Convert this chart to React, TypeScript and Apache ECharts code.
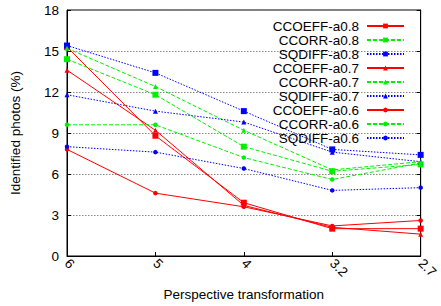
import React, { useEffect, useRef } from "react";
import * as echarts from "echarts";

const categories = ["6", "5", "4", "3.2", "2.7"];
const ccoeff08 = [15.3, 8.8, 3.9, 2.0, 2.0];
const ccorr08 = [14.4, 11.8, 8.0, 6.2, 6.7];
const sqdiff08 = [15.4, 13.4, 10.6, 7.8, 7.4];
const ccoeff07 = [13.6, 9.2, 3.7, 2.1, 1.6];
const ccorr07 = [15.2, 12.4, 9.2, 6.3, 6.9];
const sqdiff07 = [11.8, 10.6, 9.8, 7.6, 6.9];
const ccoeff06 = [7.8, 4.6, 3.6, 2.2, 2.6];
const ccorr06 = [9.6, 9.6, 7.2, 5.6, 6.8];
const sqdiff06 = [8.0, 7.6, 6.4, 4.8, 5.0];

const FONT = "Liberation Sans, Arial, Helvetica, sans-serif";

const RED = "#ff0000";
const GREEN = "#00f000";
const BLUE = "#0000ff";

type S = { name: string; data: number[]; color: string; dash: any; symbol: string; size: number };

const seriesDefs: S[] = [
  { name: "CCOEFF-a0.8", data: ccoeff08, color: RED, dash: "solid", symbol: "rect", size: 6 },
  { name: "CCORR-a0.8", data: ccorr08, color: GREEN, dash: [4, 2], symbol: "rect", size: 6 },
  { name: "SQDIFF-a0.8", data: sqdiff08, color: BLUE, dash: [1.5, 1.5], symbol: "rect", size: 6 },
  { name: "CCOEFF-a0.7", data: ccoeff07, color: RED, dash: "solid", symbol: "triangle", size: 5 },
  { name: "CCORR-a0.7", data: ccorr07, color: GREEN, dash: [4, 2], symbol: "triangle", size: 5 },
  { name: "SQDIFF-a0.7", data: sqdiff07, color: BLUE, dash: [1.5, 1.5], symbol: "triangle", size: 5 },
  { name: "CCOEFF-a0.6", data: ccoeff06, color: RED, dash: "solid", symbol: "circle", size: 4.5 },
  { name: "CCORR-a0.6", data: ccorr06, color: GREEN, dash: [4, 2], symbol: "circle", size: 4.5 },
  { name: "SQDIFF-a0.6", data: sqdiff06, color: BLUE, dash: [1.5, 1.5], symbol: "circle", size: 4.5 },
];

export default function App() {
  const ref = useRef<HTMLDivElement>(null);
  useEffect(() => {
    if (!ref.current) return;
    const chart = echarts.init(ref.current, undefined, { renderer: "svg" });
    chart.setOption({
      animation: false,
      textStyle: { fontFamily: FONT },
      grid: {
        left: 63,
        right: 15,
        top: 10,
        bottom: 48,
        show: true,
        borderColor: "#000",
        borderWidth: 1,
        backgroundColor: "transparent",
      },
      legend: {
        orient: "vertical",
        right: 31,
        top: 14,
        align: "right",
        itemWidth: 37,
        itemHeight: 6,
        itemGap: 0,
        textStyle: {
          fontFamily: FONT,
          fontSize: 13.5,
          lineHeight: 13.6,
          color: "#000",
          padding: [0, 3, 0, 0],
        },
        data: seriesDefs.map((s) => s.name),
      },
      xAxis: {
        type: "category",
        data: categories,
        boundaryGap: false,
        name: "Perspective transformation",
        nameLocation: "middle",
        nameGap: 31,
        nameTextStyle: { fontFamily: FONT, fontSize: 13.5, color: "#000" },
        axisLine: { lineStyle: { color: "#000", width: 1 } },
        axisTick: { inside: true, length: 4, lineStyle: { color: "#000" } },
        axisLabel: {
          rotate: -45,
          margin: 5,
          fontFamily: FONT,
          fontSize: 13.5,
          color: "#000",
        },
        splitLine: { show: false },
      },
      yAxis: [
        {
          type: "value",
          min: 0,
          max: 18,
          interval: 3,
          name: "Identified photos (%)",
          nameLocation: "middle",
          nameGap: 45,
          nameTextStyle: { fontFamily: FONT, fontSize: 13.5, color: "#000" },
          axisLine: { show: true, lineStyle: { color: "#000", width: 1 } },
          axisTick: { show: true, inside: true, length: 4, lineStyle: { color: "#000" } },
          axisLabel: { margin: 8, fontFamily: FONT, fontSize: 13.5, color: "#000" },
          splitLine: { show: true, lineStyle: { color: "#888", type: [1.5, 1.5], width: 1 } },
        },
        {
          type: "value",
          min: 0,
          max: 18,
          interval: 3,
          position: "right",
          axisLine: { show: true, lineStyle: { color: "#000", width: 1 } },
          axisTick: { show: true, inside: true, length: 4, lineStyle: { color: "#000" } },
          axisLabel: { show: false },
          splitLine: { show: false },
        },
      ],
      series: seriesDefs.map((s) => ({
        name: s.name,
        type: "line",
        data: s.data,
        yAxisIndex: 0,
        symbol: s.symbol,
        symbolSize: s.size,
        showAllSymbol: true,
        itemStyle: { color: s.color },
        lineStyle: { color: s.color, width: 1, type: s.dash },
        emphasis: { disabled: true },
      })),
    });
    return () => chart.dispose();
  }, []);
  return <div ref={ref} style={{ width: 441, height: 306, position: "absolute", left: 0, top: 0 }} />;
}
